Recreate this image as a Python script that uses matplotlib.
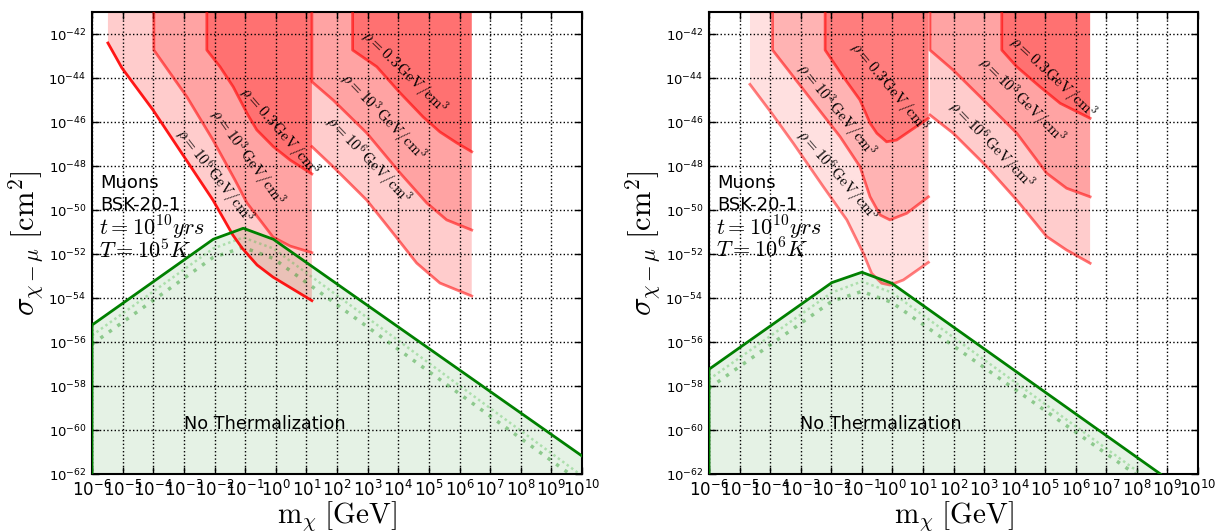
import numpy as np
import matplotlib
matplotlib.use('Agg')
import matplotlib.pyplot as plt
from matplotlib.ticker import FixedLocator, LogFormatterSciNotation, NullLocator

# ---------------- data (log10 values) ----------------
# Left panel (T = 1e5 K)
L_lo_rho6_m = [-5.48, -5.02, -4.01, -2.05, -1.40, -1.10, -0.61, -0.09, 1.18]
L_lo_rho6_s = [-42.41, -43.55, -45.45, -49.55, -51.14, -51.73, -52.50, -53.05, -54.12]
L_lo_rho3_m = [-3.98, -2.90, -2.05, -1.33, -0.94, -0.09, 0.47, 1.18]
L_lo_rho3_s = [-42.73, -44.86, -46.82, -48.64, -49.68, -51.23, -51.64, -51.94]
L_lo_rho03_m = [-2.25, -1.82, -1.39, -0.91, -0.62, -0.08, 0.47, 1.18]
L_lo_rho03_s = [-42.73, -43.49, -44.40, -45.68, -46.36, -47.12, -47.73, -48.36]
L_hi_rho03_m = [2.51, 3.30, 4.06, 4.81, 5.36, 5.91, 6.40]
L_hi_rho03_s = [-42.73, -43.49, -44.68, -45.77, -46.45, -46.95, -47.35]
L_hi_rho3_m = [1.18, 1.87, 2.97, 4.06, 4.93, 5.58, 6.40]
L_hi_rho3_s = [-44.17, -45.00, -46.50, -48.32, -49.68, -50.45, -50.91]
L_hi_rho6_m = [1.18, 1.87, 2.97, 3.83, 4.60, 5.36, 6.40]
L_hi_rho6_s = [-47.12, -48.03, -49.55, -51.05, -52.41, -53.32, -53.91]

L_green_m = [-6, -6, -2.04, -1.06, -0.08, 10]
L_green_s = [-62, -55.23, -51.33, -50.83, -51.33, -61.18]
L_dot_m = [-6, -2.04, -1.06, -0.08, 9.92]
L_dot_s = [-55.7, -51.75, -51.25, -51.75, -62.0]
L_dd_m = [-6, -2.04, -1.06, -0.08, 9.6]
L_dd_s = [-56.1, -52.15, -51.7, -52.2, -62.0]

# Right panel (T = 1e6 K)
R_lo_rho6_m = [-4.66, -3.95, -3.24, -2.26, -1.49, -0.95, -0.68, -0.35, -0.08, 0.36, 1.18]
R_lo_rho6_s = [-44.29, -45.60, -46.97, -48.94, -50.45, -51.97, -52.88, -53.33, -53.41, -53.18, -52.38]
R_lo_rho3_m = [-3.92, -3.24, -2.48, -1.71, -1.06, -0.73, -0.40, -0.08, 0.47, 1.18]
R_lo_rho3_s = [-42.73, -43.94, -45.30, -46.67, -48.03, -49.40, -50.23, -50.45, -50.15, -49.40]
R_lo_rho03_m = [-2.20, -1.61, -1.06, -0.73, -0.51, -0.19, 0.14, 1.18]
R_lo_rho03_s = [-42.73, -43.94, -45.00, -46.06, -46.51, -46.90, -46.82, -45.83]
R_hi_rho03_m = [3.58, 4.07, 4.83, 5.49, 6.47]
R_hi_rho03_s = [-42.73, -43.49, -44.40, -45.15, -45.83]
R_hi_rho3_m = [1.23, 1.99, 2.98, 4.07, 5.05, 5.70, 6.47]
R_hi_rho3_s = [-42.73, -43.64, -45.00, -46.51, -48.33, -49.01, -49.40]
R_hi_rho6_m = [1.23, 1.99, 3.09, 4.07, 5.05, 5.70, 6.47]
R_hi_rho6_s = [-45.68, -46.51, -48.03, -49.55, -51.21, -51.82, -52.42]

R_green_m = [-6, -6, -1.98, -1.0, -0.02, 8.77]
R_green_s = [-62, -57.24, -53.30, -52.83, -53.33, -62.0]
R_dot_m = [-6, -1.98, -1.0, -0.02, 8.14]
R_dot_s = [-57.7, -53.75, -53.25, -53.75, -62.0]
R_dd_m = [-6, -1.98, -1.0, -0.02, 7.94]
R_dd_s = [-58.1, -54.15, -53.7, -54.2, -62.0]

# label positions (log m, log sigma, rotation, rho text)
L_labels = [(0.1, -46.45, -49, '0.3'), (-0.95, -47.62, -54, '10^3'), (-2.0, -48.45, -52, '10^6'),
            (4.2, -43.75, -44, '0.3'), (3.5, -45.8, -46, '10^3'), (3.0, -47.75, -46, '10^6')]
R_labels = [(-0.12, -44.45, -50, '0.3'), (-1.86, -45.5, -51, '10^3'), (-1.82, -48.45, -49, '10^6'),
            (5.24, -44.0, -43, '0.3'), (4.23, -45.05, -45, '10^3'), (3.22, -47.05, -46, '10^6')]

xtick_exp = list(range(-6, 11))
ytick_exp = list(range(-62, -41, 2))

YTOP = 1e-41
YBOT = 1e-62

plt.rcParams.update({
    'xtick.direction': 'in', 'ytick.direction': 'in',
    'xtick.top': True, 'ytick.right': True,
    'xtick.major.size': 5, 'ytick.major.size': 5,
    'xtick.major.width': 1.0, 'ytick.major.width': 1.0,
})

fig = plt.figure(figsize=(12.24, 5.32), dpi=100)
W, H = 1224, 532
ax1 = fig.add_axes([92 / W, 1 - 474 / H, 490 / W, 462 / H])
ax2 = fig.add_axes([709 / W, 1 - 474 / H, 489 / W, 462 / H])


def p(a):
    return 10.0 ** np.asarray(a, dtype=float)


def region(ax, m, s, falpha, lalpha, vertical, lcolor='red'):
    ax.fill_between(p(m), p(s), YTOP, facecolor='red', alpha=falpha, linewidth=0, zorder=1)
    if vertical:
        xm = [m[0]] + list(m)
        ys = p([-41.0] + list(s))
        ax.plot(p(xm), ys, color=lcolor, alpha=lalpha, lw=2, zorder=3)
    else:
        ax.plot(p(m), p(s), color=lcolor, alpha=lalpha, lw=2, zorder=3)


def green(ax, gm, gs, dm, ds, ddm, dds):
    ax.fill_between(p(gm), p(gs), YBOT, facecolor='green', alpha=0.1, linewidth=0, zorder=1)
    ax.plot(p(dm), p(ds), color='#44bb44', ls=(0, (1, 1.2)), lw=1.8, alpha=0.35, zorder=2)
    ax.plot(p(ddm), p(dds), color='#229922', ls=(0, (1, 2)), lw=2.5, alpha=0.45, zorder=2)
    ax.plot(p(gm), p(gs), color='green', lw=2, zorder=4)


def style(ax, Tlabel, labels):
    ax.set_xscale('log')
    ax.set_yscale('log')
    ax.set_xlim(1e-6, 1e10)
    ax.set_ylim(YBOT, YTOP)
    ax.xaxis.set_major_locator(FixedLocator(p(xtick_exp)))
    ax.yaxis.set_major_locator(FixedLocator(p(ytick_exp)))
    ax.xaxis.set_minor_locator(NullLocator())
    ax.yaxis.set_minor_locator(NullLocator())
    ax.xaxis.set_major_formatter(LogFormatterSciNotation())
    ax.yaxis.set_major_formatter(LogFormatterSciNotation())
    ax.tick_params(axis='x', labelsize=12, pad=4)
    ax.tick_params(axis='y', labelsize=9.5, pad=4)
    ax.grid(True, which='major', ls=':', color='black', lw=1.0)
    for sp in ax.spines.values():
        sp.set_linewidth(1.5)
    ax.set_xlabel(r'$\mathrm{m}_\chi\;[\mathrm{GeV}]$', fontsize=21, math_fontfamily='cm', labelpad=0)
    ax.set_ylabel(r'$\sigma_{\chi-\mu}\;[\mathrm{cm}^2]$', fontsize=22, math_fontfamily='cm', labelpad=2)
    ax.text(0.016, 0.63, 'Muons', transform=ax.transAxes, fontsize=13, ha='left', va='center')
    ax.text(0.016, 0.582, 'BSK-20-1', transform=ax.transAxes, fontsize=13, ha='left', va='center')
    ax.text(0.014, 0.532, r'$t=10^{10}yrs$', transform=ax.transAxes, fontsize=16,
            ha='left', va='center', math_fontfamily='cm')
    ax.text(0.014, 0.485, Tlabel, transform=ax.transAxes, fontsize=16,
            ha='left', va='center', math_fontfamily='cm')
    ax.text(0.187, 0.108, 'No Thermalization', transform=ax.transAxes, fontsize=12.7,
            ha='left', va='center')
    for (lm, ls_, rot, rho) in labels:
        ax.text(10.0 ** lm, 10.0 ** ls_, r'$\rho=' + rho + r'\,\mathrm{GeV/cm^3}$',
                rotation=rot, rotation_mode='anchor', ha='center', va='center',
                fontsize=11, math_fontfamily='cm', zorder=5)


# Left panel
green(ax1, L_green_m, L_green_s, L_dot_m, L_dot_s, L_dd_m, L_dd_s)
region(ax1, L_lo_rho6_m, L_lo_rho6_s, 0.2, 0.9, False)
region(ax1, L_lo_rho3_m, L_lo_rho3_s, 0.2, 0.55, True)
region(ax1, L_lo_rho03_m, L_lo_rho03_s, 0.3, 0.6, True)
region(ax1, L_hi_rho6_m, L_hi_rho6_s, 0.2, 0.55, False)
region(ax1, L_hi_rho3_m, L_hi_rho3_s, 0.2, 0.55, True)
region(ax1, L_hi_rho03_m, L_hi_rho03_s, 0.3, 0.6, True)
style(ax1, r'$T=10^5K$', L_labels)

# Right panel
green(ax2, R_green_m, R_green_s, R_dot_m, R_dot_s, R_dd_m, R_dd_s)
region(ax2, R_lo_rho6_m, R_lo_rho6_s, 0.12, 0.5, False)
region(ax2, R_lo_rho3_m, R_lo_rho3_s, 0.2, 0.55, True)
region(ax2, R_lo_rho03_m, R_lo_rho03_s, 0.3, 0.6, True)
region(ax2, R_hi_rho6_m, R_hi_rho6_s, 0.2, 0.55, False)
region(ax2, R_hi_rho3_m, R_hi_rho3_s, 0.2, 0.55, True)
region(ax2, R_hi_rho03_m, R_hi_rho03_s, 0.3, 0.6, True)
style(ax2, r'$T=10^6K$', R_labels)

fig.savefig('out.png', dpi=100, facecolor='white')
